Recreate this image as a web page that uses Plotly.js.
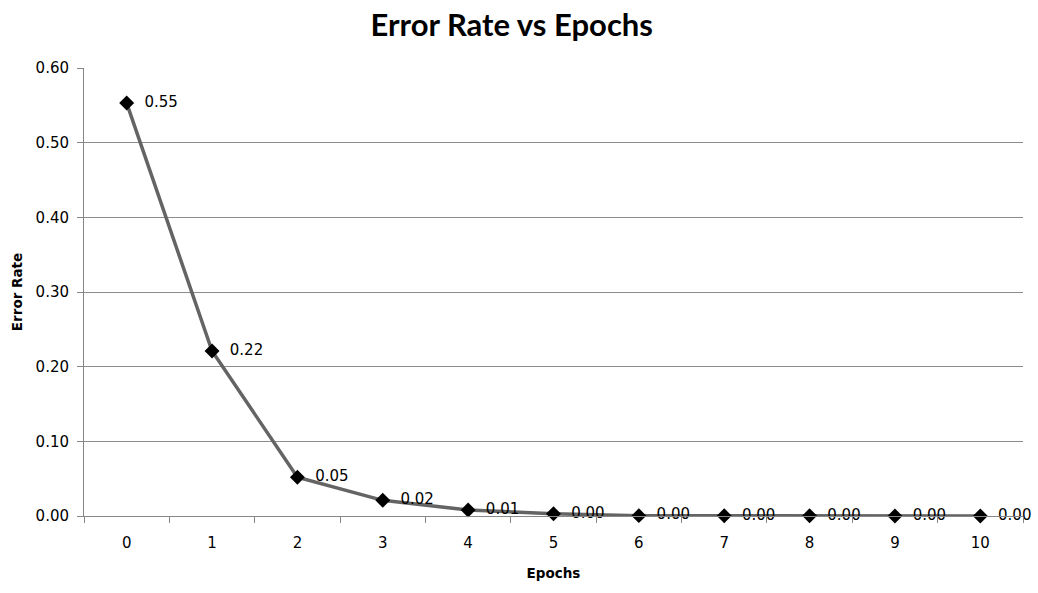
<!DOCTYPE html>
<html>
<head>
<meta charset="utf-8">
<script src="https://cdn.plot.ly/plotly-3.0.1.min.js"></script>
<style>
  html, body { margin: 0; padding: 0; background: #fff; }
  #chart { width: 1038px; height: 593px; }
</style>
</head>
<body>
<div id="chart"></div>
<script>
// Training error per epoch
const epochs = ['0', '1', '2', '3', '4', '5', '6', '7', '8', '9', '10'];
const errorRate = [0.553, 0.221, 0.052, 0.021, 0.008, 0.003, 0.0005, 0.0003, 0.0002, 0.0001, 0.0001];
const yTicks = [0, 0.1, 0.2, 0.3, 0.4, 0.5, 0.6];

const trace = {
  x: epochs,
  y: errorRate,
  type: 'scatter',
  mode: 'lines+markers+text',
  line: { color: '#646464', width: 3.5 },
  marker: { symbol: 'diamond', size: 11.5, color: '#000000' },
  texttemplate: '  %{y:.2f}',
  textposition: 'middle right',
  textfont: { family: 'DejaVu Sans', size: 15, color: '#000000' },
  cliponaxis: false,
  hoverinfo: 'skip'
};

const layout = {
  width: 1038,
  height: 593,
  margin: { l: 84, r: 15, t: 68, b: 77 },
  paper_bgcolor: '#ffffff',
  plot_bgcolor: '#ffffff',
  showlegend: false,
  title: {
    text: 'Error Rate vs Epochs',
    font: { family: 'Lato', size: 31, color: '#000000', weight: 'bold' },
    x: 0.493,
    xanchor: 'center',
    y: 0.957,
    yanchor: 'middle'
  },
  xaxis: {
    type: 'category',
    range: [-0.5, 10.5],
    tickson: 'boundaries',
    ticks: 'outside',
    ticklen: 6,
    tickcolor: '#868686',
    showline: true,
    linecolor: '#868686',
    linewidth: 1,
    showgrid: false,
    zeroline: false,
    ticklabelstandoff: 13,
    tickfont: { family: 'DejaVu Sans', size: 15, color: '#000000' },
    title: {
      text: 'Epochs',
      font: { family: 'DejaVu Sans', size: 13.5, color: '#000000', weight: 'bold' },
      standoff: 17
    },
    automargin: false
  },
  yaxis: {
    range: [0, 0.6],
    tickvals: yTicks,
    tickformat: '.2f',
    ticks: 'outside',
    ticklen: 6,
    tickcolor: '#868686',
    showline: true,
    linecolor: '#868686',
    linewidth: 1,
    showgrid: true,
    gridcolor: '#8c8c8c',
    gridwidth: 1,
    zeroline: false,
    ticklabelstandoff: 5,
    tickfont: { family: 'DejaVu Sans', size: 15, color: '#000000' },
    title: {
      text: 'Error Rate',
      font: { family: 'DejaVu Sans', size: 13.5, color: '#000000', weight: 'bold' },
      standoff: 9
    },
    automargin: false
  }
};

Plotly.newPlot('chart', [trace], layout, { displayModeBar: false, staticPlot: true });
</script>
</body>
</html>
